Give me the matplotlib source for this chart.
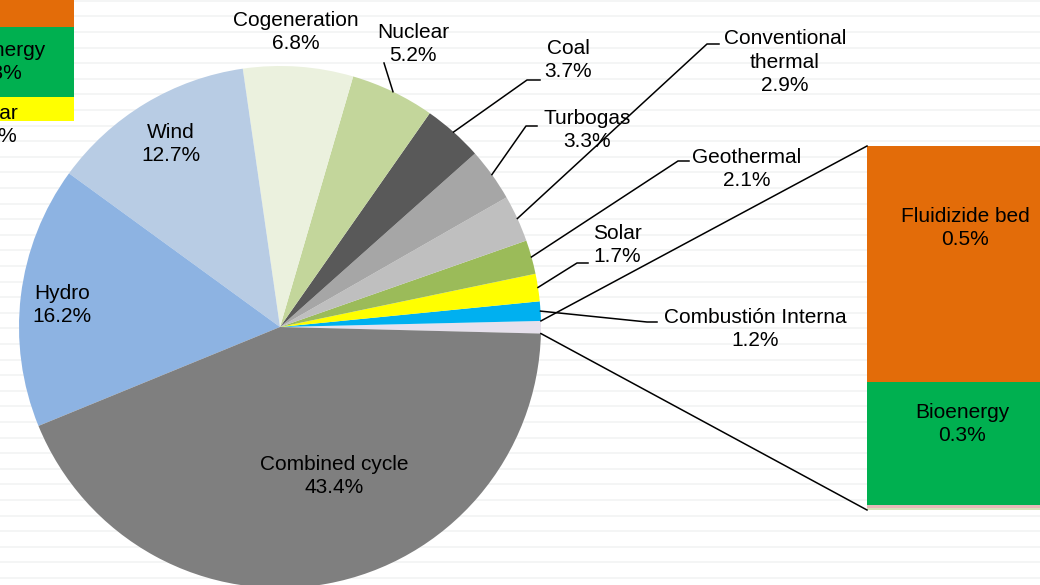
import numpy as np
import matplotlib
matplotlib.use('Agg')
import matplotlib.pyplot as plt

plt.rcParams['font.family'] = ['Liberation Sans', 'DejaVu Sans']

# main pie (percent of generation), counter-clockwise from the "other" slice
main_labels = ['Combustión Interna', 'Solar', 'Geothermal', 'Conventional thermal',
               'Turbogas', 'Coal', 'Nuclear', 'Cogeneration', 'Wind', 'Hydro',
               'Combined cycle']
main_shares = [1.2, 1.7, 2.1, 2.9, 3.3, 3.7, 5.2, 6.8, 12.7, 16.2, 43.4]
main_colors = ['#00b0f0', '#ffff00', '#9bbb59', '#bfbfbf', '#a6a6a6', '#595959',
               '#c3d69b', '#ebf1de', '#b8cce4', '#8db3e2', '#7f7f7f']

# secondary bar (split of the small "other" slice)
bar_labels = ['Fluidizide bed', 'Bioenergy', '', '']
bar_shares = [0.5, 0.26, 0.005, 0.005]
bar_colors = ['#e36c09', '#00b050', '#e6b9b8', '#d7e4bd']
other_color = '#e6e0ec'

# leftover bar of a neighbouring chart, clipped at the top-left corner
prev_labels = ['Solar', 'Bioenergy', 'Fluidizide bed']
prev_shares = [0.1, 0.29, 1.0]
prev_colors = ['#ffff00', '#00b050', '#e36c09']

W, H = 1040, 585
fig = plt.figure(figsize=(W / 100, H / 100), dpi=100)


def Y(y):
    return H - y


# faint striped background
bg = fig.add_axes([0, 0, 1, 1], zorder=0)
for y in np.arange(0.7, H, 15.6):
    bg.axhline(Y(y), color='#f4f5f5', lw=1.4)
bg.set_xlim(0, W)
bg.set_ylim(0, H)
bg.axis('off')

# secondary stacked bar
bx0, bx1, by0, by1 = 867, 1060, 146, 510
bax = fig.add_axes([bx0 / W, (H - by1) / H, (bx1 - bx0) / W, (by1 - by0) / H], zorder=1)
bottom = 0
for v, c in zip(bar_shares[::-1], bar_colors[::-1]):
    bax.bar(0, v, bottom=bottom, width=1, color=c, linewidth=0)
    bottom += v
bax.set_xlim(-0.5, 0.5)
bax.set_ylim(0, sum(bar_shares))
bax.axis('off')

# clipped bar of the neighbouring chart (240 px per unit)
ptop = sum(prev_shares)
pax = fig.add_axes([-150 / W, (H - 121) / H, 224 / W, 240 * ptop / H], zorder=1)
bottom = 0
for v, c in zip(prev_shares, prev_colors):
    pax.bar(0, v, bottom=bottom, width=1, color=c, linewidth=0)
    bottom += v
pax.set_xlim(-0.5, 0.5)
pax.set_ylim(0, ptop)
pax.axis('off')

# main pie
ax = fig.add_axes([0, 0, 1, 1], zorder=2)
ax.patch.set_visible(False)
cx, cy, R = 280, 327, 261
values = [sum(bar_shares)] + main_shares
wedges, _ = ax.pie(values, colors=[other_color] + main_colors, center=(cx, Y(cy)),
                   radius=R, startangle=-1.44, counterclock=True,
                   wedgeprops=dict(linewidth=0))
ax.set_xlim(0, W)
ax.set_ylim(0, H)
ax.set_aspect('equal')
ax.axis('off')

TXT = dict(fontsize=15, ha='center', va='center', linespacing=1.3, color='black', zorder=5)


def edge(w, frac=0.5):
    a = np.deg2rad(w.theta1 + (w.theta2 - w.theta1) * frac)
    return cx + R * np.cos(a), Y(cy) + R * np.sin(a)


# label layout: text centre and leader elbow points (image pixels)
layout = {
    'Combustión Interna': ((755, 329), [(657, 322), (647, 322)]),
    'Solar': ((617, 245), [(588, 263), (577, 263)]),
    'Geothermal': ((747, 169), [(689, 161), (678, 161)]),
    'Conventional thermal': ((785, 62), [(719, 44), (707, 44)]),
    'Turbogas': ((587, 130), [(537, 126), (526, 126)]),
    'Coal': ((568, 60), [(540, 80), (527, 80)]),
    'Nuclear': ((413, 44), [(384, 63)]),
    'Cogeneration': ((296, 32), None),
    'Wind': ((171, 144), None),
    'Hydro': ((62, 305), None),
    'Combined cycle': ((334, 476), None),
}
display = {'Conventional thermal': 'Conventional\nthermal'}

for w, name, share in zip(wedges[1:], main_labels, main_shares):
    (tx, ty), pts = layout[name]
    ax.text(tx, Y(ty), f"{display.get(name, name)}\n{share}%", **TXT)
    if pts:
        ex, ey = edge(w)
        xs = [p[0] for p in pts] + [ex]
        ys = [Y(p[1]) for p in pts] + [ey]
        ax.plot(xs, ys, color='black', lw=1.1, zorder=4)

bar_text_pos = [(965, 228), (962, 424)]
for (tx, ty), name, share in zip(bar_text_pos, bar_labels, bar_shares):
    ax.text(tx, Y(ty), f"{name}\n{share:.1f}%", **TXT)

# series lines from the "other" slice to the bar
to_data = ax.transData.inverted()
top_corner = to_data.transform(bax.transAxes.transform((0, 1)))
bot_corner = to_data.transform(bax.transAxes.transform((0, 0)))
ow = wedges[0]
p_top = edge(ow, 1.0)
p_bot = edge(ow, 0.0)
ax.plot([p_top[0], top_corner[0]], [p_top[1], top_corner[1]], color='black', lw=1.1, zorder=4)
ax.plot([p_bot[0], bot_corner[0]], [p_bot[1], bot_corner[1]], color='black', lw=1.1, zorder=4)

# labels of the neighbouring chart's bar (cut by the figure edge)
ax.text(-2, Y(62), f"{prev_labels[1]}\n0.3%", **TXT)
ax.text(-7, Y(125), f"{prev_labels[0]}\n{prev_shares[0]}%", **TXT)

fig.savefig('out.png', dpi=100)
